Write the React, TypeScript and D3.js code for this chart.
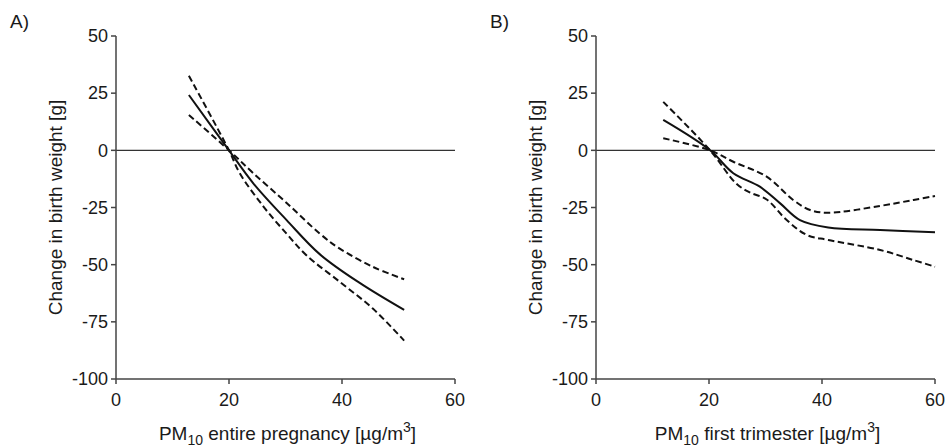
import React from "react";
import * as d3 from "d3";

// ---------- data ----------
const xTicks = [0, 20, 40, 60];
const yTicks = [50, 25, 0, -25, -50, -75, -100];

// Panel A: PM10 entire pregnancy
const aSolidX = [12.9, 20.0, 24.3, 30.2, 36.1, 43.2, 51.0];
const aSolidY = [24.2, 0, -14.4, -30.5, -45.5, -58.1, -69.8];
// confidence band lines (they cross at the reference value 20)
const aSteepX = [12.9, 20.0, 21.9, 26.1, 30.2, 33.75, 39.6, 45.5, 51.0];
const aSteepY = [32.6, 0, -10.0, -24.6, -36.5, -46.0, -57.5, -69.3, -83.2];
const aFlatX = [12.9, 20.0, 24.3, 30.2, 36.1, 39.6, 45.5, 51.0];
const aFlatY = [15.5, 0, -10.0, -23.0, -36.5, -43.0, -51.0, -56.4];

// Panel B: PM10 first trimester
const bSolidX = [11.9, 20.2, 24.3, 29.0, 32.6, 36.1, 41.1, 50.3, 60.0];
const bSolidY = [13.3, 0, -10.0, -15.9, -23.2, -30.5, -33.7, -34.8, -35.8];
const bSteepX = [11.9, 20.2, 24.8, 27.3, 30.2, 33.75, 37.3, 41.1, 50.3, 56.2, 60.0];
const bSteepY = [21.2, 0, -14.5, -18.5, -21.5, -30.5, -37.0, -39.2, -43.6, -48.0, -50.9];
const bFlatX = [11.9, 20.2, 24.3, 30.2, 34.9, 37.9, 41.1, 50.3, 56.2, 60.0];
const bFlatY = [5.3, 0, -5.0, -11.5, -21.7, -26.1, -27.3, -24.3, -21.7, -20.0];

const panels = [
  {
    letter: "A)",
    xTitle: " entire pregnancy [µg/m",
    solid: [aSolidX, aSolidY],
    dashed: [
      [aSteepX, aSteepY],
      [aFlatX, aFlatY],
    ],
  },
  {
    letter: "B)",
    xTitle: " first trimester [µg/m",
    solid: [bSolidX, bSolidY],
    dashed: [
      [bSteepX, bSteepY],
      [bFlatX, bFlatY],
    ],
  },
];

const FONT = "'Liberation Sans', Arial, Helvetica, sans-serif";
const AXIS = "#444";
const TXT = "#1a1a1a";

function Panel({ p, left }: { p: any; left: number }) {
  const x = d3.scaleLinear().domain([0, 60]).range([left, left + 339]);
  const y = d3.scaleLinear().domain([-100, 50]).range([379, 36]);
  const line = d3
    .line<[number, number]>()
    .x((d) => x(d[0]))
    .y((d) => y(d[1]))
    .curve(d3.curveCatmullRom.alpha(0.5));
  const pts = (s: number[][]) => s[0].map((v, i) => [v, s[1][i]] as [number, number]);
  const [x0, x1] = x.range();
  const [yb, yt] = y.range();
  return (
    <g fontFamily={FONT}>
      <text x={left - 106} y={28} fontSize={19} fill={TXT}>
        {p.letter}
      </text>
      {/* zero line */}
      <line x1={x0} x2={x1} y1={y(0)} y2={y(0)} stroke="#333" strokeWidth={1.2} />
      {/* axes */}
      <line x1={x0} x2={x0} y1={yb} y2={yt} stroke={AXIS} strokeWidth={1.5} />
      <line x1={x0} x2={x1} y1={yb} y2={yb} stroke={AXIS} strokeWidth={1.5} />
      {yTicks.map((t) => (
        <g key={"y" + t}>
          <line x1={x0 - 5} x2={x0} y1={y(t)} y2={y(t)} stroke={AXIS} strokeWidth={1.5} />
          <text x={x0 - 8} y={y(t)} dy="0.35em" textAnchor="end" fontSize={18} fill={TXT}>
            {t}
          </text>
        </g>
      ))}
      {xTicks.map((t) => (
        <g key={"x" + t}>
          <line x1={x(t)} x2={x(t)} y1={yb} y2={yb + 5} stroke={AXIS} strokeWidth={1.5} />
          <text x={x(t)} y={406} textAnchor="middle" fontSize={18} fill={TXT}>
            {t}
          </text>
        </g>
      ))}
      {/* curves */}
      {p.dashed.map((s: number[][], i: number) => (
        <path
          key={"d" + i}
          d={line(pts(s)) || ""}
          fill="none"
          stroke="#111"
          strokeWidth={2}
          strokeDasharray="6.5,3.5"
        />
      ))}
      <path d={line(pts(p.solid)) || ""} fill="none" stroke="#111" strokeWidth={2} />
      {/* titles */}
      <text
        transform={`translate(${left - 54},${(yb + yt) / 2}) rotate(-90)`}
        textAnchor="middle"
        fontSize={19}
        fill={TXT}
      >
        Change in birth weight [g]
      </text>
      <text x={(x0 + x1) / 2 + 2} y={440} textAnchor="middle" fontSize={19} fill={TXT}>
        PM
        <tspan fontSize={14} dy={5}>10</tspan>
        <tspan dy={-5}>{p.xTitle}</tspan>
        <tspan fontSize={14} dy={-8}>3</tspan>
        <tspan dy={8}>]</tspan>
      </text>
    </g>
  );
}

export default function App() {
  return (
    <svg
      width={949}
      height={447}
      style={{ position: "absolute", left: 0, top: 0, background: "#fff" }}
    >
      <rect width={949} height={447} fill="#fff" />
      <Panel p={panels[0]} left={116} />
      <Panel p={panels[1]} left={596} />
    </svg>
  );
}
